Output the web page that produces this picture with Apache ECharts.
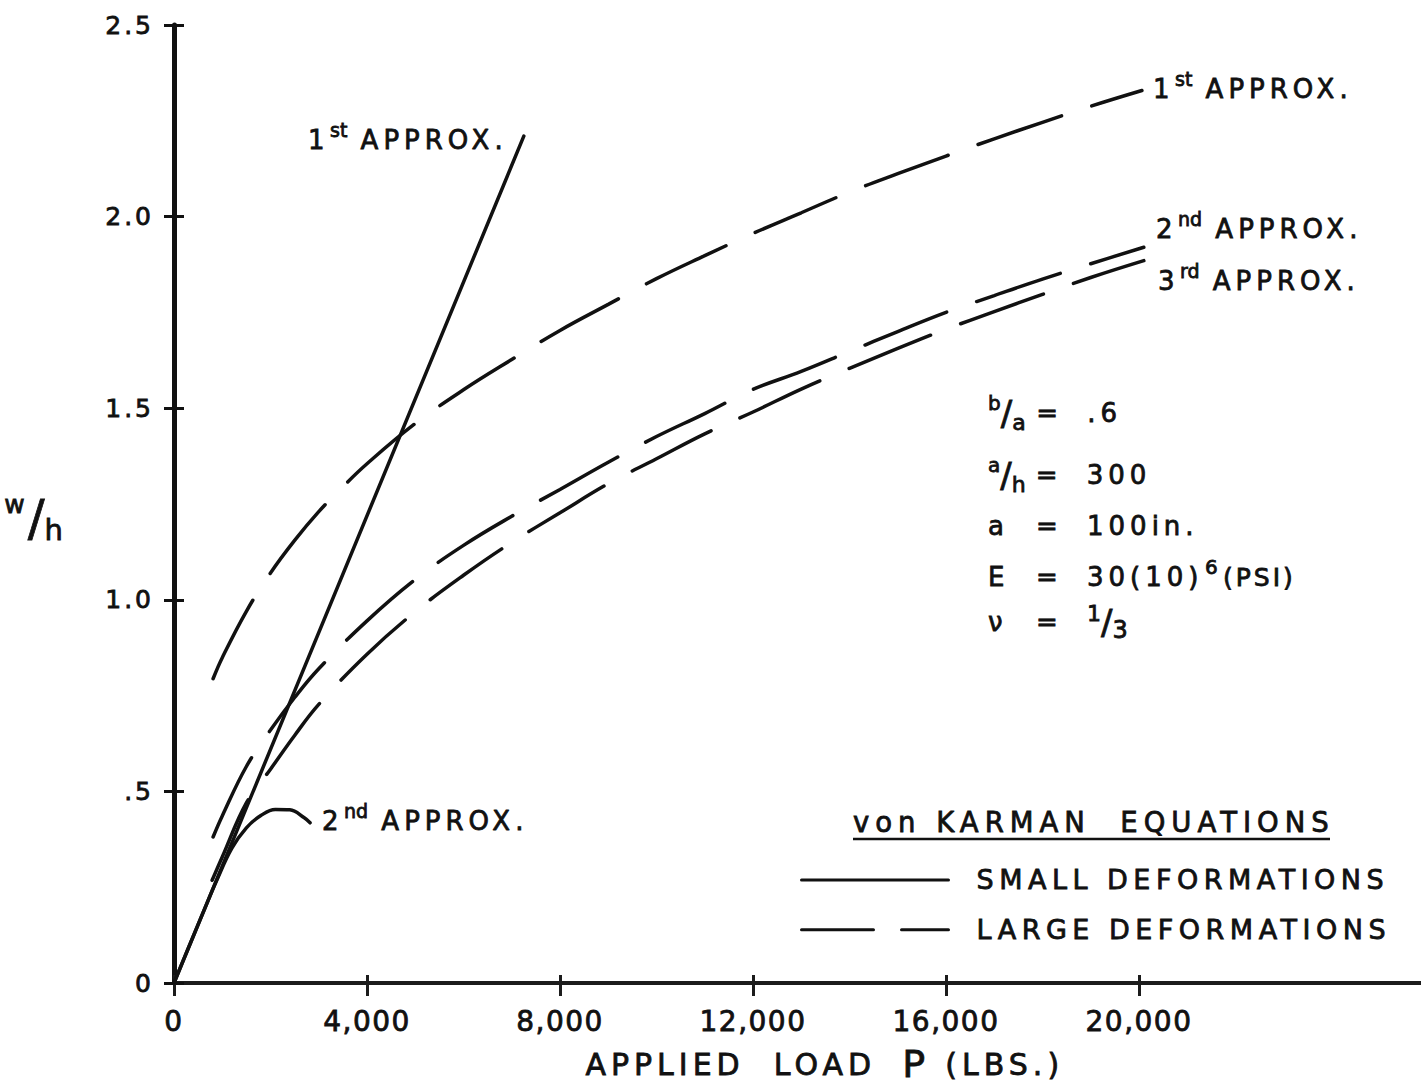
<!DOCTYPE html>
<html><head><meta charset="utf-8">
<script src="https://cdn.jsdelivr.net/npm/echarts@6/dist/echarts.min.js"></script>
<style>
html,body{margin:0;padding:0;background:#fff;}
#chart{width:1421px;height:1086px;background:#fff;}
svg text{white-space:pre;}
svg text[style*="25px"]{letter-spacing:3px;}
svg text[style*="26px"]{letter-spacing:5px;}
svg text[style*="27px"]{letter-spacing:5.5px;}
svg text[style*="27.5px"]{letter-spacing:6px;}
svg text[style*="28px"]{letter-spacing:1.5px;}
svg text[style*="30px"]{letter-spacing:5px;}
</style></head><body><div id="chart"></div>
<script>
// ---- tick values and labels ----
const xTicks = [0, 4000, 8000, 12000, 16000, 20000];
const xTickLabels = ['0', '4,000', '8,000', '12,000', '16,000', '20,000'];
const yTicks = [0, 0.5, 1, 1.5, 2, 2.5];
const yTickLabels = ['0', '.5', '1.0', '1.5', '2.0', '2.5'];

// ---- small deformations (solid) ----
const smallFirstP = [0, 7250];
const smallFirstW = [0, 2.21];
const smallSecondP = [0, 300, 600, 900, 1200, 1500, 1800, 2100, 2400, 2700, 2820];
const smallSecondW = [0, 0.092, 0.183, 0.272, 0.352, 0.405, 0.437, 0.453, 0.452, 0.431, 0.418];

// ---- large deformations (dashed) ----
const largeFirstP = [810, 1000, 1500, 2000, 2500, 3000, 3500, 4000, 5000, 6000, 7000, 8000, 9000, 10000, 11000, 12000, 13000, 14000, 15000, 16000, 17000, 18000, 19000, 20060];
const largeFirstW = [0.794, 0.849, 0.97, 1.07, 1.155, 1.23, 1.295, 1.355, 1.46, 1.548, 1.627, 1.703, 1.771, 1.838, 1.898, 1.956, 2.01, 2.064, 2.112, 2.158, 2.203, 2.246, 2.288, 2.329];
const largeSecondP = [810, 1000, 1500, 2000, 2500, 3000, 4000, 5000, 6000, 7000, 8000, 9000, 10000, 11000, 12000, 13000, 14000, 15000, 16000, 17000, 18000, 19000, 20100];
const largeSecondW = [0.381, 0.436, 0.565, 0.66, 0.745, 0.82, 0.945, 1.053, 1.142, 1.218, 1.288, 1.359, 1.426, 1.486, 1.549, 1.596, 1.648, 1.70, 1.75, 1.794, 1.837, 1.877, 1.92];
const largeThirdP = [790, 1000, 1500, 2000, 2500, 3000, 4000, 5000, 6000, 7000, 8000, 9000, 10000, 11000, 12000, 13000, 14000, 15000, 16000, 17000, 18000, 19000, 20100];
const largeThirdW = [0.268, 0.329, 0.47, 0.558, 0.646, 0.727, 0.858, 0.969, 1.064, 1.15, 1.227, 1.303, 1.368, 1.433, 1.49, 1.55, 1.604, 1.656, 1.706, 1.752, 1.797, 1.841, 1.885];

const SMALL = 'SMALL DEFORMATIONS';
const LARGE = 'LARGE DEFORMATIONS';

const F = '"DejaVu Sans", sans-serif';
const INK = '#111';
const SW = 0.8; // text stroke to mimic the pen weight of the lettering
const pairs = (xs, ys) => xs.map((x, i) => [x, ys[i]]);
const lookup = (ticks, labels) => v => { const i = ticks.findIndex(t => Math.abs(t - v) < 1e-6); return i < 0 ? '' : labels[i]; };

const solid = { color: INK, width: 3.5, type: 'solid', cap: 'round' };
const dashed = { color: INK, width: 3.5, type: [88, 32], cap: 'round' };

function lineSeries(name, data, style, smooth) {
  return { name, type: 'line', data, symbol: 'none', smooth,
    lineStyle: style, itemStyle: { color: INK }, silent: true, z: 3 };
}

function tok(o) { return Object.assign({ fontFamily: F, fill: INK, stroke: INK, lineWidth: SW }, o); }
const supRich = {
  d: tok({ fontSize: 26, lineHeight: 40, width: 22, align: 'left' }),
  b: tok({ fontSize: 26, lineHeight: 40 }),
  s: tok({ fontSize: 19, lineHeight: 10, verticalAlign: 'top' })
};
function approx(x, y, num, sup) {
  return { type: 'text', x, y, silent: true,
    style: { text: '{d|' + num + '}{s|' + sup + '}{b| APPROX.}', rich: supRich, fill: INK, stroke: INK, lineWidth: SW,
      fontFamily: F, fontSize: 26, verticalAlign: 'middle', align: 'left' } };
}

const pRich = {
  up: tok({ fontSize: 20, lineHeight: 18, verticalAlign: 'top' }),
  sl: tok({ fontSize: 34, lineHeight: 40 }),
  dn: tok({ fontSize: 22, lineHeight: 18, verticalAlign: 'bottom', width: 24, align: 'left' }),
  s: tok({ fontSize: 26, lineHeight: 40, width: 48, align: 'left' }),
  eq: tok({ fontSize: 26, lineHeight: 40, width: 51, align: 'left' }),
  v: tok({ fontSize: 26, lineHeight: 40 }),
  vw: tok({ fontSize: 26, lineHeight: 40, width: 118, align: 'left' }),
  e6: tok({ fontSize: 20, lineHeight: 12, verticalAlign: 'top', width: 18, align: 'left' }),
  ps: tok({ fontSize: 25, lineHeight: 40 }),
  n1: tok({ fontSize: 22, lineHeight: 18, verticalAlign: 'top' }),
  n3: tok({ fontSize: 24, lineHeight: 18, verticalAlign: 'bottom' })
};
function param(y, text) {
  return { type: 'text', x: 988, y, silent: true,
    style: { text, rich: pRich, fill: INK, stroke: INK, lineWidth: SW, fontFamily: F, fontSize: 26, verticalAlign: 'middle', align: 'left' } };
}

function etok(o) { return Object.assign({ fontFamily: F, color: INK, textBorderColor: INK, textBorderWidth: SW }, o); }

const chart = echarts.init(document.getElementById('chart'), null, { renderer: 'svg' });
chart.setOption({
  animation: false,
  backgroundColor: '#fff',
  color: [INK],
  grid: { left: 174, top: 25, bottom: 103, width: 1254.5, containLabel: false, outerBoundsMode: 'none' },
  xAxis: [
    { type: 'value', min: 0, max: 26000, position: 'bottom',
      axisLine: { show: true, onZero: false, lineStyle: { color: '#1c1c1c', width: 4 } },
      axisTick: { show: true, inside: false, length: 13, customValues: xTicks, lineStyle: { color: '#1c1c1c', width: 3 } },
      axisLabel: { show: true, customValues: xTicks, formatter: lookup(xTicks, xTickLabels), margin: 24,
        fontSize: 28, fontFamily: F, color: INK, textBorderColor: INK, textBorderWidth: SW },
      splitLine: { show: false },
      name: '{a|APPLIED  LOAD}{p|P}{c|(LBS.)}', nameLocation: 'middle', nameGap: 61,
      nameTextStyle: { color: INK, fontFamily: F, padding: [0, 0, 0, 17],
        rich: { a: etok({ fontSize: 30, lineHeight: 40, width: 317, align: 'left' }),
                p: etok({ fontSize: 38, lineHeight: 40, width: 43, align: 'left' }),
                c: etok({ fontSize: 30, lineHeight: 40, align: 'left' }) } } },
    { type: 'value', min: 0, max: 26000, position: 'bottom',
      axisLine: { show: false, onZero: false },
      axisTick: { show: true, inside: true, length: 8, customValues: xTicks, lineStyle: { color: '#1c1c1c', width: 3 } },
      axisLabel: { show: false }, splitLine: { show: false } }
  ],
  yAxis: [
    { type: 'value', min: 0, max: 2.5, interval: 0.5, position: 'left',
      axisLine: { show: true, onZero: false, lineStyle: { color: '#111', width: 5 } },
      axisTick: { show: true, inside: false, length: 10, lineStyle: { color: '#111', width: 3 } },
      axisLabel: { show: true, formatter: lookup(yTicks, yTickLabels), margin: 20, fontSize: 25, fontFamily: F, color: INK,
        textBorderColor: INK, textBorderWidth: SW },
      splitLine: { show: false },
      name: '{w|w}{sl|/}{h|h}', nameLocation: 'middle', nameRotate: 0, nameGap: 111,
      nameTextStyle: { color: INK, fontFamily: F, padding: [28, 0, 0, 0],
        rich: { w: etok({ fontSize: 25, lineHeight: 18, verticalAlign: 'top' }),
                sl: etok({ fontSize: 50, lineHeight: 52 }),
                h: etok({ fontSize: 29, lineHeight: 22, verticalAlign: 'bottom' }) } } },
    { type: 'value', min: 0, max: 2.5, interval: 0.5, position: 'left',
      axisLine: { show: false, onZero: false },
      axisTick: { show: true, inside: true, length: 10, lineStyle: { color: '#111', width: 3 } },
      axisLabel: { show: false }, splitLine: { show: false } }
  ],
  legend: {
    orient: 'vertical', left: 795, top: 861, itemWidth: 147, itemHeight: 14, itemGap: 22,
    selectedMode: false,
    textStyle: { fontSize: 27, fontFamily: F, color: INK, padding: [0, 0, 0, 23], textBorderColor: INK, textBorderWidth: SW },
    data: [
      { name: SMALL, lineStyle: { width: 3, type: 'solid', color: INK },
        itemStyle: { color: 'rgba(0,0,0,0)', borderWidth: 0, opacity: 0 } },
      { name: LARGE, lineStyle: { width: 3, type: [72, 28], color: INK },
        itemStyle: { color: 'rgba(0,0,0,0)', borderWidth: 0, opacity: 0 } }
    ]
  },
  series: [
    lineSeries(SMALL, pairs(smallFirstP, smallFirstW), solid, false),
    lineSeries(SMALL, pairs(smallSecondP, smallSecondW), solid, 0.4),
    lineSeries(LARGE, pairs(largeFirstP, largeFirstW), dashed, 0.4),
    lineSeries(LARGE, pairs(largeSecondP, largeSecondW), dashed, 0.4),
    lineSeries(LARGE, pairs(largeThirdP, largeThirdW), dashed, 0.4)
  ],
  graphic: [
    { type: 'text', x: 853, y: 822, silent: true,
      style: { text: 'von KARMAN  EQUATIONS', fontSize: 27.5, fontFamily: F, fill: INK, stroke: INK, lineWidth: SW,
        verticalAlign: 'middle', align: 'left' } },
    { type: 'line', silent: true, shape: { x1: 853, y1: 839, x2: 1330, y2: 839 }, style: { stroke: INK, lineWidth: 2.5 } },
    approx(308, 140, '1', 'st'),
    approx(1153, 89, '1', 'st'),
    approx(1156, 229, '2', 'nd'),
    approx(1158, 281, '3', 'rd'),
    approx(322, 821, '2', 'nd'),
    param(413, '{up|b}{sl|/}{dn|a}{eq|=}{v|.6}'),
    param(475, '{up|a}{sl|/}{dn|h}{eq|=}{v|300}'),
    param(526, '{s|a}{eq|=}{v|100in.}'),
    param(577, '{s|E}{eq|=}{vw|30(10)}{e6|6}{ps|(PSI)}'),
    param(622, '{s|ν}{eq|=}{n1|1}{sl|/}{n3|3}')
  ]
});
</script></body></html>
